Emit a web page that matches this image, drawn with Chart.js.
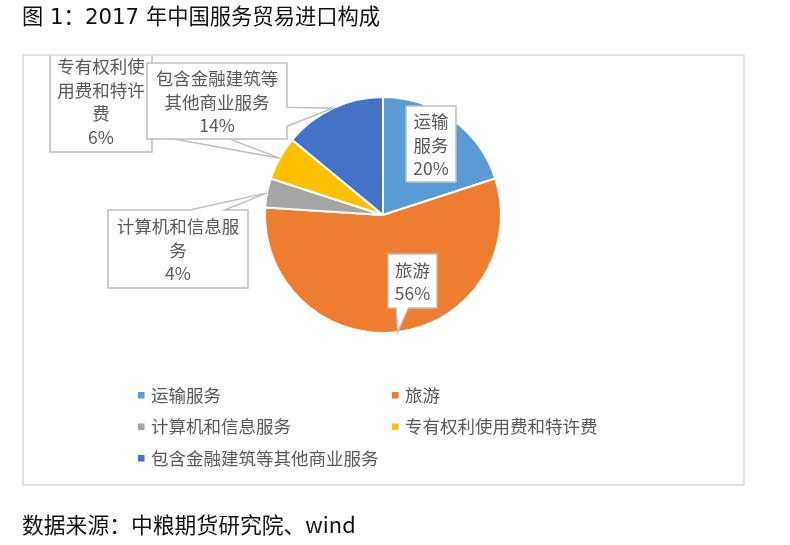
<!DOCTYPE html>
<html><head><meta charset="utf-8">
<script src="https://cdn.jsdelivr.net/npm/chart.js@4.4.0/dist/chart.umd.min.js"></script>
<style>html,body{margin:0;padding:0;background:#fff;}canvas{display:block;}</style>
</head><body>
<canvas id="c" width="790" height="545"></canvas>
<script>
const titleText = '图 1：2017 年中国服务贸易进口构成';
const sourceText = '数据来源：中粮期货研究院、wind';
const categories = ['运输服务', '旅游', '计算机和信息服务', '专有权利使用费和特许费', '包含金融建筑等其他商业服务'];
const shares = [20, 56, 4, 6, 14];
const labelLines = [['运输', '服务'], ['旅游'], ['计算机和信息服', '务'], ['专有权利使', '用费和特许', '费'], ['包含金融建筑等', '其他商业服务']];
const colors = ['#5B9BD5', '#ED7D31', '#A5A5A5', '#FFC000', '#4472C4'];

// layout (positions / sizes only)
const calloutLayout = [
  {dx: 48, dy: -71, w: 50, h: 76},
  {dx: 29.5, dy: 66, w: 49, h: 54},
  {dx: -205, dy: 34, w: 140, h: 78},
  {dx: -282, dy: -114, w: 102, h: 102},
  {dx: -166, dy: -114, w: 140, h: 76}
];
const frame = {x: 23, y: 55, w: 721, h: 430};
const legendCols = [138, 392];
const legendRowY0 = 395, legendRowStep = 31.5;
const CJK = '"Noto Sans CJK SC", "Noto Sans", sans-serif';
const labelColor = '#595959';

const decor = {
  id: 'decor',
  afterDatasetsDraw(chart) {
    const ctx = chart.ctx;
    const arcs = chart.getDatasetMeta(0).data;
    ctx.save();
    ctx.beginPath(); ctx.rect(frame.x, frame.y, frame.w, frame.h); ctx.clip();
    arcs.forEach((arc, i) => {
      const p = arc.getProps(['x', 'y', 'startAngle', 'endAngle', 'outerRadius'], true);
      const mid = (p.startAngle + p.endAngle) / 2;
      const tx = p.x + Math.cos(mid) * p.outerRadius;
      const ty = p.y + Math.sin(mid) * p.outerRadius;
      const L = calloutLayout[i];
      const cx = p.x + L.dx, cy = p.y + L.dy;
      const l = cx - L.w / 2, r = cx + L.w / 2, t = cy - L.h / 2, b = cy + L.h / 2;
      const inside = tx > l && tx < r && ty > t && ty < b;
      let side = null;
      if (!inside) {
        const nx = (tx - cx) / L.w, ny = (ty - cy) / L.h;
        if (Math.abs(nx) > Math.abs(ny)) side = nx > 0 ? 'right' : 'left';
        else side = ny > 0 ? 'bottom' : 'top';
      }
      const fr = (lo, len, tipC, cC) => tipC < cC ? [lo + len * 2 / 12, lo + len * 5 / 12] : [lo + len * 7 / 12, lo + len * 10 / 12];
      ctx.beginPath();
      ctx.moveTo(l, t);
      if (side === 'top') { const [a, c] = fr(l, L.w, tx, cx); ctx.lineTo(a, t); ctx.lineTo(tx, ty); ctx.lineTo(c, t); }
      ctx.lineTo(r, t);
      if (side === 'right') { const [a, c] = fr(t, L.h, ty, cy); ctx.lineTo(r, a); ctx.lineTo(tx, ty); ctx.lineTo(r, c); }
      ctx.lineTo(r, b);
      if (side === 'bottom') { const [a, c] = fr(l, L.w, tx, cx); ctx.lineTo(c, b); ctx.lineTo(tx, ty); ctx.lineTo(a, b); }
      ctx.lineTo(l, b);
      if (side === 'left') { const [a, c] = fr(t, L.h, ty, cy); ctx.lineTo(l, c); ctx.lineTo(tx, ty); ctx.lineTo(l, a); }
      ctx.closePath();
      ctx.fillStyle = '#FFFFFF';
      ctx.fill();
      ctx.strokeStyle = '#BFBFBF';
      ctx.lineWidth = 1.5;
      ctx.stroke();
      const lines = labelLines[i].concat([shares[i] + '%']);
      const lh = 23.5;
      ctx.fillStyle = labelColor;
      ctx.font = '17.5px ' + CJK;
      ctx.textAlign = 'center';
      ctx.textBaseline = 'middle';
      const y0 = cy + 1 - (lines.length - 1) * lh / 2;
      lines.forEach((s, k) => ctx.fillText(s, cx, y0 + k * lh));
    });
    ctx.restore();
  },
  afterDraw(chart) {
    const ctx = chart.ctx;
    ctx.save();
    ctx.strokeStyle = '#D9D9D9';
    ctx.lineWidth = 1.5;
    ctx.strokeRect(frame.x, frame.y, frame.w, frame.h);
    // legend
    ctx.font = '17.5px ' + CJK;
    ctx.textAlign = 'left';
    ctx.textBaseline = 'middle';
    categories.forEach((name, i) => {
      const col = i % 2, row = Math.floor(i / 2);
      const x = legendCols[col], y = legendRowY0 + row * legendRowStep;
      ctx.fillStyle = colors[i];
      ctx.fillRect(x, y - 3, 6.5, 6.5);
      ctx.fillStyle = labelColor;
      ctx.fillText(name, x + 13, y);
    });
    // title & source
    ctx.fillStyle = '#111111';
    ctx.font = '21.3px "DejaVu Sans", ' + CJK;
    ctx.fillText(titleText, 22, 18);
    ctx.font = '21.8px ' + CJK;
    ctx.fillText(sourceText, 22, 525);
    ctx.restore();
  }
};

new Chart(document.getElementById('c'), {
  type: 'pie',
  data: {
    labels: categories,
    datasets: [{
      data: shares,
      backgroundColor: colors,
      borderColor: '#FFFFFF',
      borderWidth: 2,
      hoverOffset: 0,
      radius: 118
    }]
  },
  options: {
    responsive: false,
    animation: false,
    events: [],
    layout: {padding: {left: 265, right: 289, top: 97, bottom: 212}},
    plugins: {legend: {display: false}, tooltip: {enabled: false}, title: {display: false}}
  },
  plugins: [decor]
});
</script>
</body></html>
